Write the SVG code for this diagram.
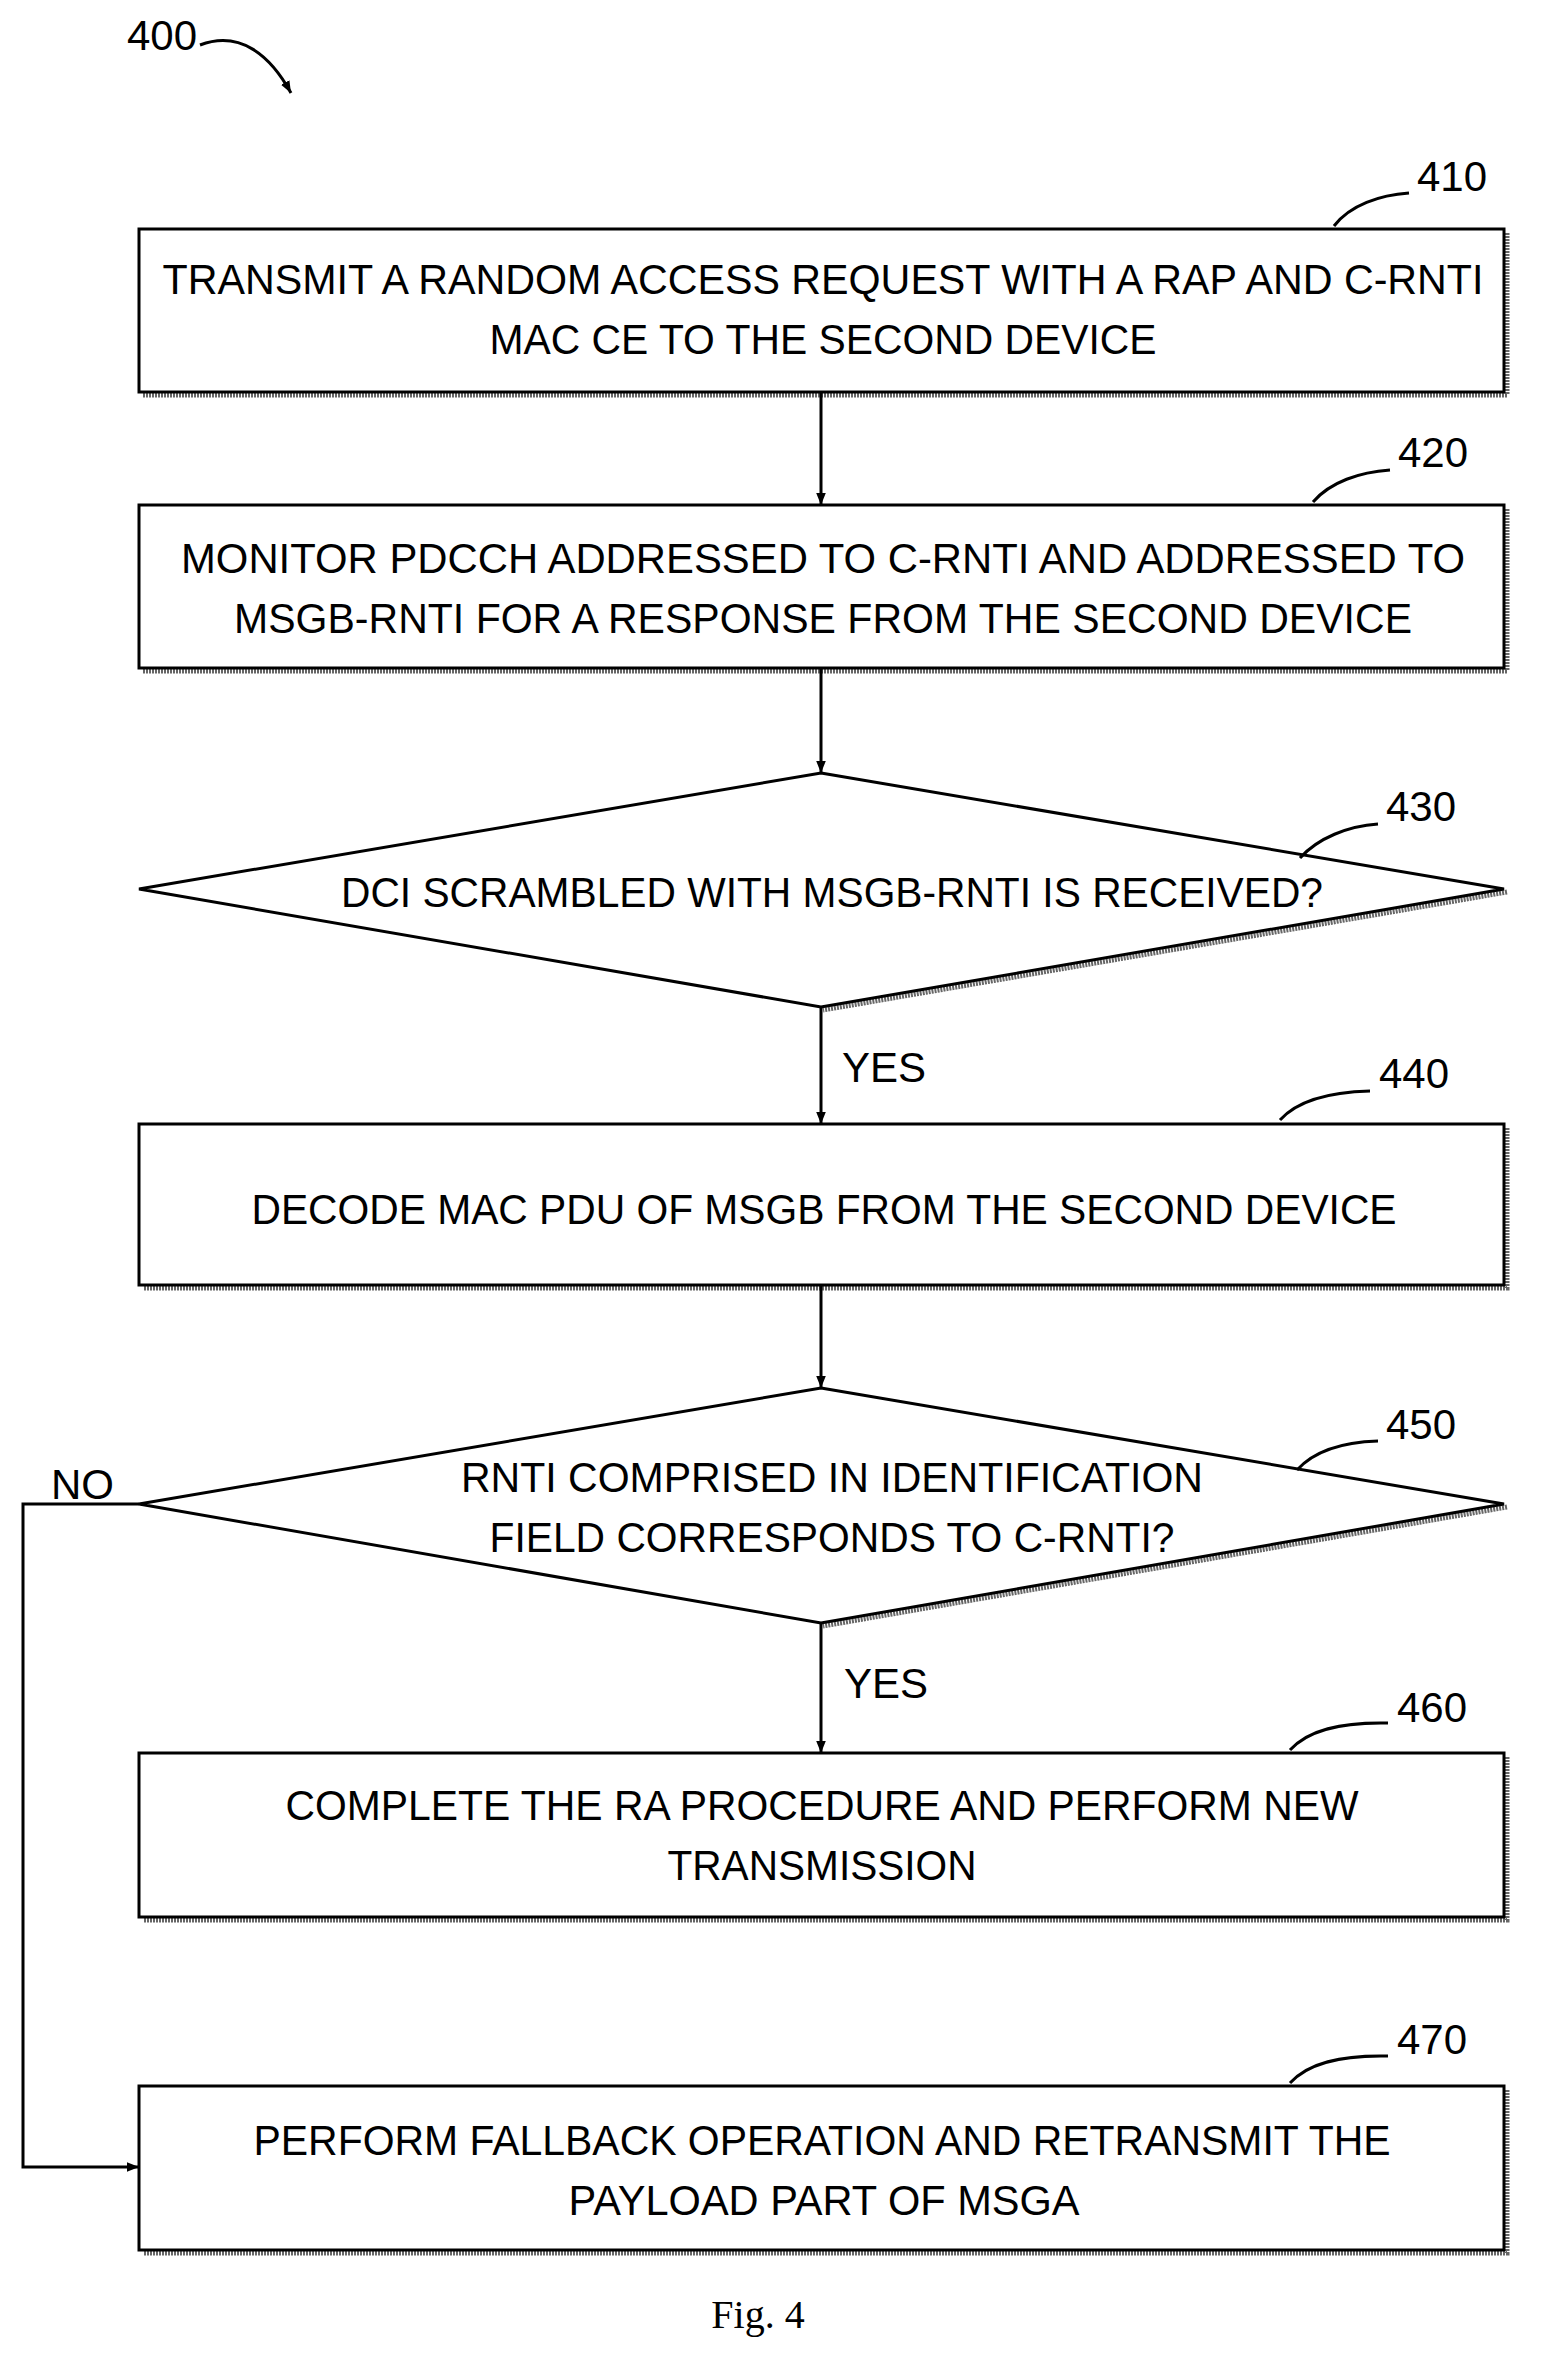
<svg xmlns="http://www.w3.org/2000/svg" width="1543" height="2376" viewBox="0 0 1543 2376">
<style>
.b{fill:#fff;stroke:#000;stroke-width:3}
.s{fill:none;stroke:#000;stroke-width:5;stroke-dasharray:2 1;opacity:0.6}
.t{font-family:"Liberation Sans",Arial,sans-serif;font-size:42px;fill:#000}
.c{text-anchor:middle}
.l{fill:none;stroke:#000;stroke-width:3}
</style>
<defs><marker id="a" viewBox="0 0 10 10" refX="10" refY="5" markerWidth="7" markerHeight="7" markerUnits="userSpaceOnUse" orient="auto"><path d="M0,0L10,5L0,10z"/></marker>
<marker id="m" viewBox="0 0 10 10" refX="10" refY="5" markerWidth="12" markerHeight="12" markerUnits="userSpaceOnUse" orient="auto"><path d="M0,1L10,5L0,9z"/></marker></defs>
<text class="t" x="127" y="50">400</text>
<path class="l" d="M200,45 C240,30 270,55 291,93" marker-end="url(#m)"/>
<g id="connectors">
<path class="l" d="M821,392V505" marker-end="url(#m)"/>
<path class="l" d="M821,668V773" marker-end="url(#m)"/>
<path class="l" d="M821,1007V1124" marker-end="url(#m)"/>
<path class="l" d="M821,1285V1388" marker-end="url(#m)"/>
<path class="l" d="M821,1623V1753" marker-end="url(#m)"/>
<path class="l" d="M139,1504H23V2167H139" marker-end="url(#m)"/>
<text class="t" x="842" y="1082">YES</text>
<text class="t" x="844" y="1698">YES</text>
<text class="t" x="51" y="1499">NO</text>
</g>
<g id="n410"><path class="s" d="M1507,233V395H143"/><rect class="b" x="139" y="229" width="1365" height="163"/>
<text class="t c" x="823" y="294" textLength="1321" lengthAdjust="spacingAndGlyphs">TRANSMIT A RANDOM ACCESS REQUEST WITH A RAP AND C-RNTI</text>
<text class="t c" x="823" y="354" textLength="667" lengthAdjust="spacingAndGlyphs">MAC CE TO THE SECOND DEVICE</text>
<path class="l" d="M1334,226C1350,205 1380,195 1409,193"/><text class="t" x="1417" y="191">410</text></g>
<g id="n420"><path class="s" d="M1507,509V671H143"/><rect class="b" x="139" y="505" width="1365" height="163"/>
<text class="t c" x="823" y="573" textLength="1284" lengthAdjust="spacingAndGlyphs">MONITOR PDCCH ADDRESSED TO  C-RNTI  AND ADDRESSED TO</text>
<text class="t c" x="823" y="633" textLength="1178" lengthAdjust="spacingAndGlyphs">MSGB-RNTI FOR A RESPONSE FROM THE SECOND DEVICE</text>
<path class="l" d="M1313,502C1330,482 1360,472 1390,470"/><text class="t" x="1398" y="467">420</text></g>
<g id="n430"><path class="s" d="M1507,892L823,1010"/><polygon class="b" points="821,773 1504,889 821,1007 139,889"/>
<text class="t c" x="832" y="907" textLength="982" lengthAdjust="spacingAndGlyphs">DCI SCRAMBLED WITH MSGB-RNTI IS RECEIVED?</text>
<path class="l" d="M1300,858C1318,838 1348,826 1378,824"/><text class="t" x="1386" y="821">430</text></g>
<g id="n440"><path class="s" d="M1507,1128V1288H143"/><rect class="b" x="139" y="1124" width="1365" height="161"/>
<text class="t c" x="824" y="1224" textLength="1145" lengthAdjust="spacingAndGlyphs">DECODE MAC PDU OF MSGB FROM THE SECOND DEVICE</text>
<path class="l" d="M1280,1120C1298,1100 1330,1092 1370,1091"/><text class="t" x="1379" y="1088">440</text></g>
<g id="n450"><path class="s" d="M1507,1507L823,1626"/><polygon class="b" points="821,1388 1504,1504 821,1623 139,1504"/>
<text class="t c" x="832" y="1492" textLength="742" lengthAdjust="spacingAndGlyphs">RNTI COMPRISED IN IDENTIFICATION</text>
<text class="t c" x="832" y="1552" textLength="685" lengthAdjust="spacingAndGlyphs">FIELD CORRESPONDS TO C-RNTI?</text>
<path class="l" d="M1297,1470C1315,1450 1345,1442 1378,1441"/><text class="t" x="1386" y="1439">450</text></g>
<g id="n460"><path class="s" d="M1507,1757V1920H143"/><rect class="b" x="139" y="1753" width="1365" height="164"/>
<text class="t c" x="822" y="1820" textLength="1073" lengthAdjust="spacingAndGlyphs">COMPLETE THE RA PROCEDURE AND PERFORM NEW</text>
<text class="t c" x="822" y="1880" textLength="309" lengthAdjust="spacingAndGlyphs">TRANSMISSION</text>
<path class="l" d="M1290,1750C1308,1730 1340,1722 1388,1723"/><text class="t" x="1397" y="1722">460</text></g>
<g id="n470"><path class="s" d="M1507,2090V2253H143"/><rect class="b" x="139" y="2086" width="1365" height="164"/>
<text class="t c" x="822" y="2155" textLength="1137" lengthAdjust="spacingAndGlyphs">PERFORM FALLBACK OPERATION AND RETRANSMIT THE</text>
<text class="t c" x="824" y="2215" textLength="511" lengthAdjust="spacingAndGlyphs">PAYLOAD PART OF MSGA</text>
<path class="l" d="M1290,2083C1308,2063 1340,2055 1388,2056"/><text class="t" x="1397" y="2054">470</text></g>
<text x="758" y="2328" text-anchor="middle" font-family="Liberation Serif,serif" font-size="40">Fig. 4</text>
</svg>
